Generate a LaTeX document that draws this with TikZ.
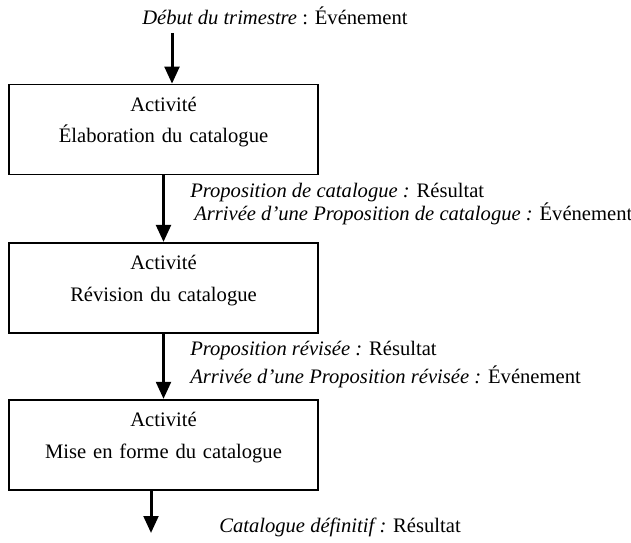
\documentclass[tikz,border=0pt]{standalone}
\usepackage{fontspec}
\setmainfont{Liberation Serif}
\usetikzlibrary{arrows.meta,positioning}

\begin{document}
\begin{tikzpicture}[x=0.75pt,y=-0.75pt,>={Triangle[length=12.75pt,width=11pt]},
  font=\fontsize{15.45}{23.6}\selectfont,
  activite/.style={draw,line width=1.2pt,inner sep=0pt,text width=231.75pt,align=center,
    text height=20.25pt,text depth=47.25pt},
  etiq/.style={anchor=base west,inner sep=0pt},
  flux/.style={->,line width=2.25pt}]
  \useasboundingbox (0,0) rectangle (631,542);
  \node[activite,anchor=base] (act1) at (163.5,111.5) {Activité\\Élaboration du catalogue};
  \node[activite,below=50pt of act1] (act2) {Activité\\Révision du catalogue};
  \node[activite,below=49pt of act2] (act3) {Activité\\Mise en forme du catalogue};
  \node[etiq] (debut) at (142,25) {\textit{Début du trimestre} : Événement};
  \node[etiq] (res1) at (190,197) {\textit{Proposition de catalogue :} Résultat};
  \node[etiq] (evt1) at (194,220) {\textit{Arrivée d’une Proposition de catalogue :} Événement};
  \node[etiq] (res2) at (190,355) {\textit{Proposition révisée :} Résultat};
  \node[etiq] (evt2) at (190,383) {\textit{Arrivée d’une Proposition révisée :} Événement};
  \node[etiq] (resfin) at (219,532) {\textit{Catalogue définitif :} Résultat};
  \coordinate (src) at (172,33);
  \coordinate (puits) at (151,533);
  \draw[flux] (src) -- (src |- act1.north);
  \draw[flux] (act1) -- (act2);
  \draw[flux] (act2) -- (act3);
  \draw[flux] (puits |- act3.south) -- (puits);
\end{tikzpicture}
\end{document}
